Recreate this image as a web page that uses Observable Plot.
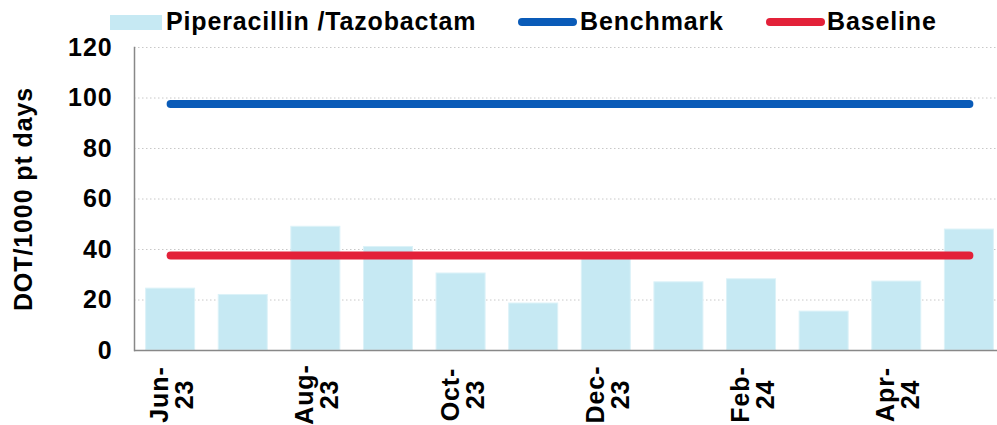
<!DOCTYPE html>
<html>
<head>
<meta charset="utf-8">
<script src="https://cdn.jsdelivr.net/npm/d3@7"></script>
<script src="https://cdn.jsdelivr.net/npm/@observablehq/plot@0.6"></script>
<style>
  html, body { margin: 0; padding: 0; background: #fff; }
  #wrap { position: relative; width: 997px; height: 425px; font-family: "Liberation Sans", Arial, sans-serif; font-weight: bold; }
  .lg { position: absolute; top: 7px; font-size: 25px; letter-spacing: 0.85px; line-height: 28px; color: #000; white-space: nowrap; }
  .sw { position: absolute; }
  svg text { letter-spacing: 0.9px; }
</style>
</head>
<body>
<div id="wrap"></div>
<script>
const months = ["Jun-23","Jul-23","Aug-23","Sep-23","Oct-23","Nov-23","Dec-23","Jan-24","Feb-24","Mar-24","Apr-24","May-24"];
const piperacillin = [24.5, 22, 49, 41, 30.5, 18.6, 37, 27, 28.2, 15.4, 27.3, 47.9];
const tickLabels = ["Jun-\n23", "", "Aug-\n23", "", "Oct-\n23", "", "Dec-\n23", "", "Feb-\n24", "", "Apr-\n24", ""];
const yTicks = [0, 20, 40, 60, 80, 100, 120];
const benchmark = 97.6;
const baseline = 37.6;
const seriesNames = ["Piperacillin /Tazobactam", "Benchmark", "Baseline"];
const colors = ["#c6e9f3", "#0a5bb8", "#e32139"];

const barData = months.map((m, i) => ({month: m, value: piperacillin[i]}));
const labelData = months.map((m, i) => ({month: m, label: tickLabels[i]})).filter(d => d.label);
const ends = [months[0], months[months.length - 1]];
const benchData = ends.map(m => ({month: m, value: benchmark}));
const baseData = ends.map(m => ({month: m, value: baseline}));

const chart = Plot.plot({
  width: 997,
  height: 425,
  marginTop: 47,
  marginBottom: 75,
  marginLeft: 134,
  marginRight: 0,
  style: {fontFamily: "'Liberation Sans', Arial, sans-serif", fontSize: "25px", fontWeight: "bold", color: "#000", background: "#fff", overflow: "visible"},
  x: {domain: months, range: [134, 1005], paddingInner: 0.325, paddingOuter: 0.16, round: false, axis: null},
  y: {domain: [0, 120], axis: null},
  marks: [
    Plot.gridY(yTicks.slice(1), {stroke: "#c8c8c8", strokeOpacity: 1, strokeDasharray: "1.5,2.5", strokeWidth: 1}),
    Plot.barY(barData, {x: "month", y: "value", fill: colors[0], stroke: "#dcf2f8", strokeWidth: 1}),
    Plot.lineY(benchData, {x: "month", y: "value", stroke: colors[1], strokeWidth: 8, strokeLinecap: "round"}),
    Plot.lineY(baseData, {x: "month", y: "value", stroke: colors[2], strokeWidth: 8, strokeLinecap: "round"}),
    Plot.ruleY([0], {stroke: "#888", strokeWidth: 1.5}),
    Plot.frame({anchor: "left", stroke: "#888", strokeWidth: 1.5}),
    Plot.axisY({ticks: yTicks, tickSize: 0, tickPadding: 22, label: "DOT/1000 pt days", labelAnchor: "center", labelArrow: "none", labelOffset: 120, fontSize: 25, fontWeight: "bold"}),
    Plot.text(labelData, {x: "month", text: "label", frameAnchor: "bottom", dx: 2, dy: 44, rotate: -90, textAnchor: "middle", lineAnchor: "middle", lineHeight: 1.0, fontSize: 25, fontWeight: "bold", fill: "#000"})
  ]
});

const wrap = document.getElementById("wrap");
wrap.appendChild(chart);
chart.style.position = "absolute";
chart.style.left = "0px";
chart.style.top = "0px";

// Legend
const legendItems = [
  {name: seriesNames[0], color: colors[0], kind: "rect", swX: 110, textX: 166},
  {name: seriesNames[1], color: colors[1], kind: "line", swX: 518, textX: 580},
  {name: seriesNames[2], color: colors[2], kind: "line", swX: 766, textX: 827}
];
for (const it of legendItems) {
  const sw = document.createElement("div");
  sw.className = "sw";
  if (it.kind === "rect") {
    Object.assign(sw.style, {left: it.swX + "px", top: "15px", width: "52px", height: "15px", background: it.color});
  } else {
    Object.assign(sw.style, {left: it.swX + "px", top: "18px", width: "59px", height: "8px", background: it.color, borderRadius: "4px"});
  }
  wrap.appendChild(sw);
  const t = document.createElement("div");
  t.className = "lg";
  t.style.left = it.textX + "px";
  t.textContent = it.name;
  wrap.appendChild(t);
}
</script>
</body>
</html>
